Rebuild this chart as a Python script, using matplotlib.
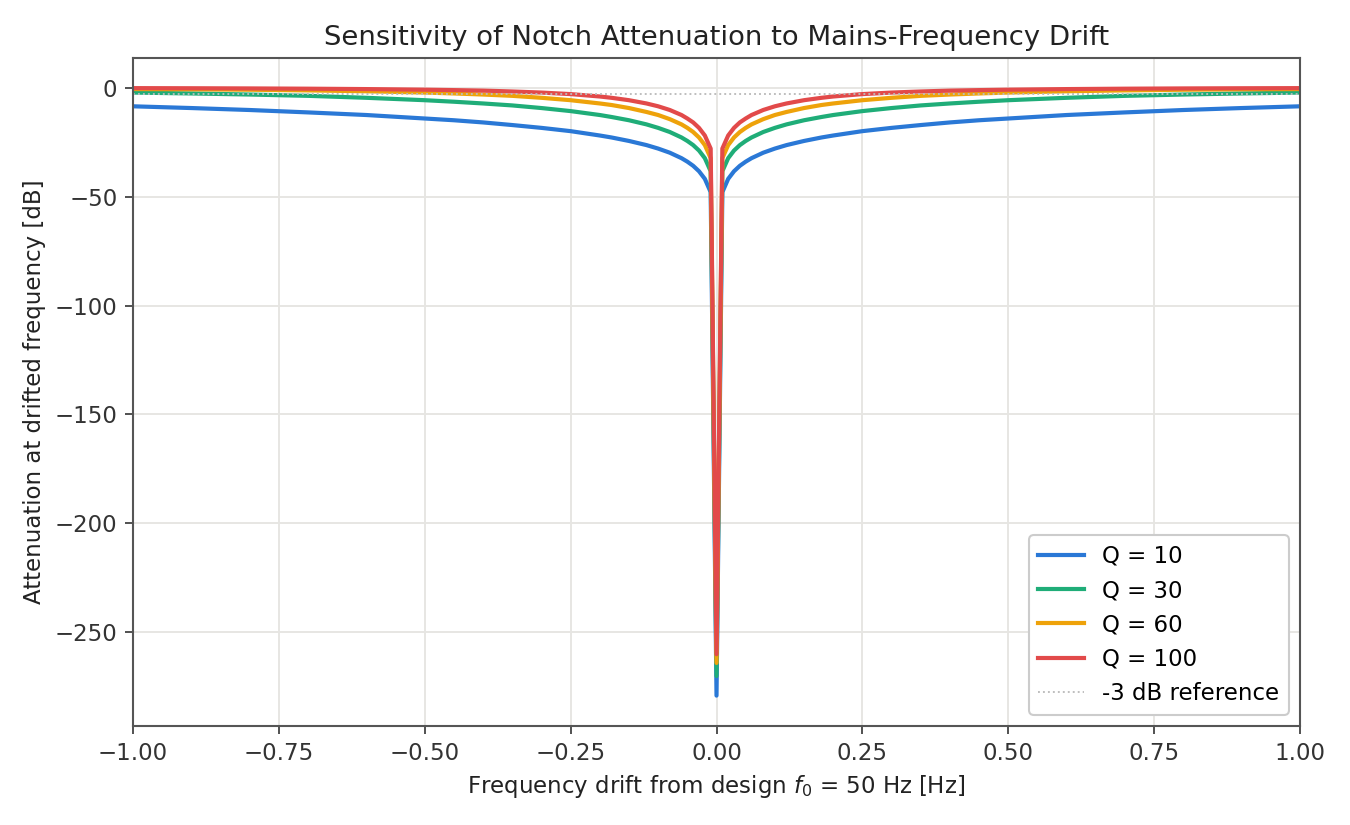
import numpy as np
import matplotlib
matplotlib.use('Agg')
import matplotlib.pyplot as plt

# drift from 50 Hz design frequency [Hz]
drift = [-1.0, -0.9, -0.8, -0.7, -0.6, -0.5, -0.45, -0.4, -0.35, -0.3, -0.25, -0.2, -0.18, -0.15,
         -0.12, -0.1, -0.08, -0.06, -0.05, -0.04, -0.03, -0.02, -0.01, 0.0,
         0.01, 0.02, 0.03, 0.04, 0.05, 0.06, 0.08, 0.1, 0.12, 0.15, 0.18, 0.2, 0.25, 0.3,
         0.35, 0.4, 0.45, 0.5, 0.6, 0.7, 0.8, 0.9, 1.0]

# attenuation [dB]
att_q10 = [-8.6, -9.4, -10.3, -11.4, -12.6, -14.2, -15.0, -16.0, -17.2, -18.5, -20.0, -22.0, -22.9, -24.5,
           -26.4, -28.0, -29.9, -32.4, -34.0, -35.9, -38.4, -41.9, -48.0, -279.0,
           -48.0, -41.9, -38.4, -35.9, -34.0, -32.4, -29.9, -28.0, -26.4, -24.5, -22.9, -22.0, -20.0, -18.5,
           -17.2, -16.0, -15.0, -14.2, -12.6, -11.4, -10.3, -9.4, -8.6]
att_q30 = [-2.3, -2.7, -3.2, -3.8, -4.7, -5.8, -6.5, -7.3, -8.2, -9.4, -10.8, -12.6, -13.5, -15.0,
           -16.9, -18.5, -20.4, -22.9, -24.5, -26.4, -28.9, -32.4, -38.4, -270.0,
           -38.4, -32.4, -28.9, -26.4, -24.5, -22.9, -20.4, -18.5, -16.9, -15.0, -13.5, -12.6, -10.8, -9.4,
           -8.2, -7.3, -6.5, -5.8, -4.7, -3.8, -3.2, -2.7, -2.3]
att_q60 = [-0.7, -0.8, -1.0, -1.3, -1.7, -2.3, -2.7, -3.2, -3.8, -4.7, -5.8, -7.3, -8.0, -9.4,
           -11.2, -12.6, -14.5, -16.9, -18.5, -20.4, -22.9, -26.4, -32.4, -264.0,
           -32.4, -26.4, -22.9, -20.4, -18.5, -16.9, -14.5, -12.6, -11.2, -9.4, -8.0, -7.3, -5.8, -4.7,
           -3.8, -3.2, -2.7, -2.3, -1.7, -1.3, -1.0, -0.8, -0.7]
att_q100 = [-0.26, -0.32, -0.4, -0.52, -0.7, -0.97, -1.17, -1.4, -1.8, -2.3, -3.0, -4.1, -4.7, -5.8,
            -7.3, -8.6, -10.3, -12.6, -14.2, -16.0, -18.5, -22.0, -28.0, -260.0,
            -28.0, -22.0, -18.5, -16.0, -14.2, -12.6, -10.3, -8.6, -7.3, -5.8, -4.7, -4.1, -3.0, -2.3,
            -1.8, -1.4, -1.17, -0.97, -0.7, -0.52, -0.4, -0.32, -0.26]

series = [('Q = 10', att_q10, '#2a78d6'),
          ('Q = 30', att_q30, '#1fad78'),
          ('Q = 60', att_q60, '#eea20a'),
          ('Q = 100', att_q100, '#e24a4a')]

fig, ax = plt.subplots(figsize=(9, 5.5), dpi=150)
fig.subplots_adjust(left=0.0985, right=0.963, top=0.93, bottom=0.12)

for label, vals, col in series:
    ax.plot(drift, vals, color=col, lw=2, label=label)

ax.axhline(-3, color='#bbbbbb', lw=0.9, ls=':', label='-3 dB reference')

ax.set_xlim(-1, 1)
ax.grid(True, color='#e6e5e2', lw=0.9)
ax.set_axisbelow(True)
for s in ax.spines.values():
    s.set_color('#555555')
    s.set_linewidth(1.0)
ax.tick_params(colors='#333333', labelsize=11, length=4)

ax.set_title('Sensitivity of Notch Attenuation to Mains-Frequency Drift', fontsize=13.2, color='#222222')
ax.set_xlabel('Frequency drift from design $f_0$ = 50 Hz [Hz]', fontsize=11, color='#222222')
ax.set_ylabel('Attenuation at drifted frequency [dB]', fontsize=11, color='#222222')

leg = ax.legend(loc='lower right', fontsize=11, framealpha=1, edgecolor='#cccccc', fancybox=True)

fig.savefig('out.png')
